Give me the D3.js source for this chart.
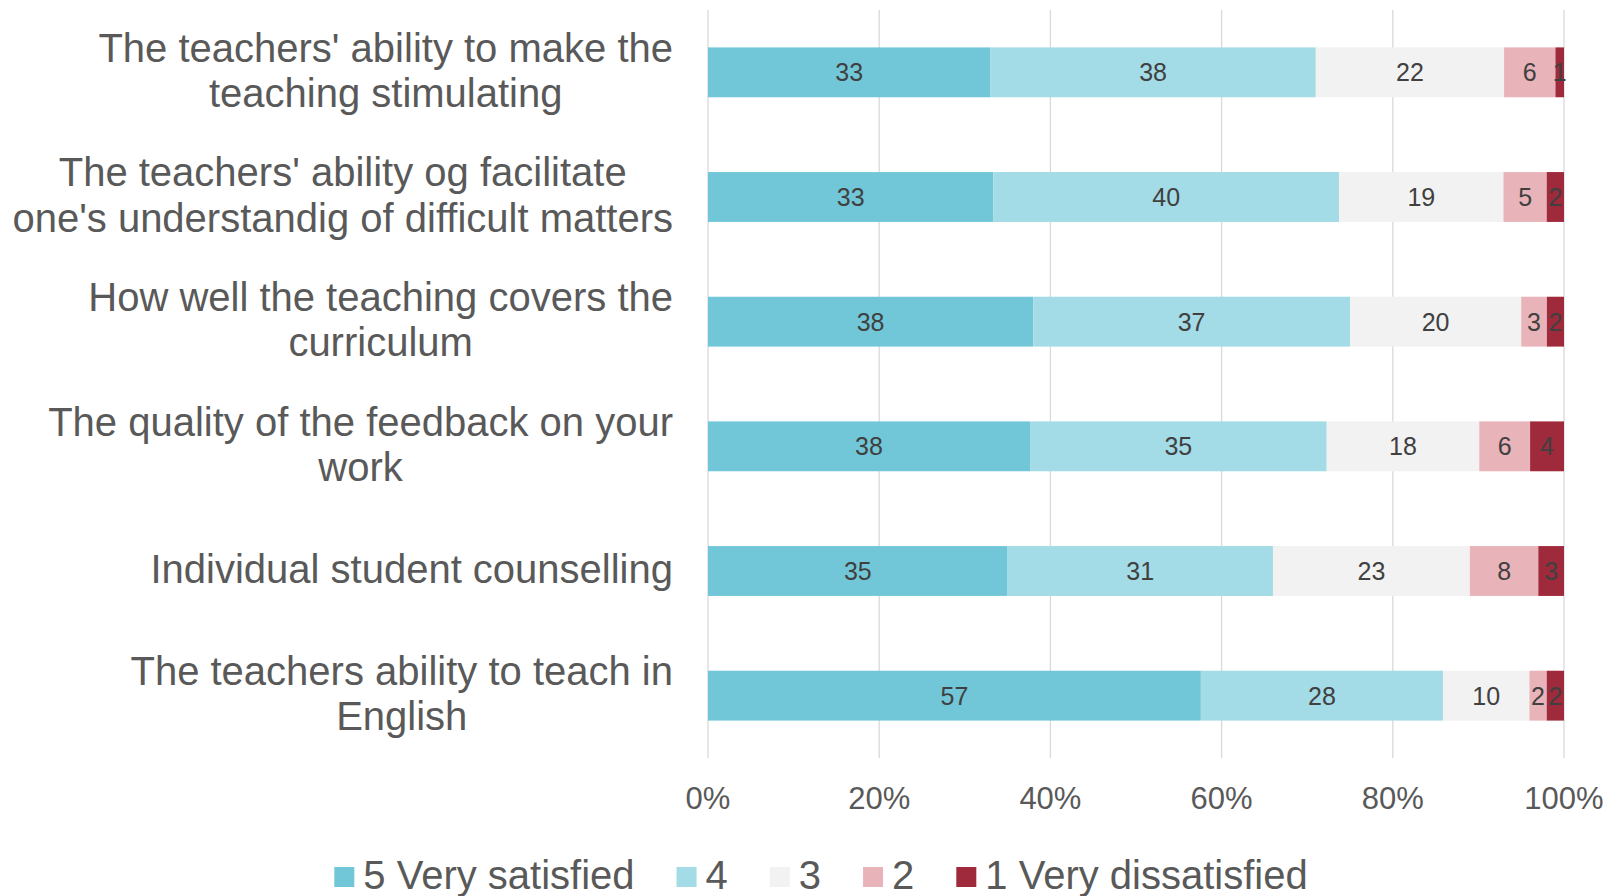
<!DOCTYPE html>
<html>
<head>
<meta charset="utf-8">
<script src="https://cdn.jsdelivr.net/npm/d3@7"></script>
<style>
  html, body { margin: 0; padding: 0; background: #fff; }
  svg { display: block; font-family: "Liberation Sans", Arial, sans-serif; }
</style>
</head>
<body>
<svg id="chart" width="1621" height="896"></svg>
<script>
// Survey items (each entry is a list of wrapped lines)
const categories = [
  ["The teachers' ability to make the", "teaching stimulating"],
  ["The teachers' ability og facilitate", "one's understandig of difficult matters"],
  ["How well the teaching covers the", "curriculum"],
  ["The quality of the feedback on your", "work"],
  ["Individual student counselling"],
  ["The teachers ability to teach in", "English"]
];

// Response shares per rating level (percent)
const seriesNames = ["5 Very satisfied", "4", "3", "2", "1 Very dissatisfied"];
const rating5 = [33, 33, 38, 38, 35, 57];
const rating4 = [38, 40, 37, 35, 31, 28];
const rating3 = [22, 19, 20, 18, 23, 10];
const rating2 = [6, 5, 3, 6, 8, 2];
const rating1 = [1, 2, 2, 4, 3, 2];
const seriesColors = ["#71c7d8", "#a3dbe6", "#f2f2f2", "#e8b4b9", "#9e2a3b"];

const tickValues = [0, 0.2, 0.4, 0.6, 0.8, 1];

const seriesValues = [rating5, rating4, rating3, rating2, rating1];
const rows = categories.map((c, i) => {
  const r = { idx: i };
  seriesNames.forEach((s, k) => { r[s] = seriesValues[k][i]; });
  return r;
});

const svg = d3.select("#chart");
const plot = { left: 708, right: 1564, top: 10, bottom: 758 };

const x = d3.scaleLinear().domain([0, 1]).range([plot.left, plot.right]);
const y = d3.scaleBand().domain(d3.range(categories.length))
  .range([plot.top, plot.bottom]).paddingInner(0.6).paddingOuter(0.3);
const color = d3.scaleOrdinal().domain(seriesNames).range(seriesColors);

// Vertical gridlines
svg.append("g").selectAll("line").data(tickValues).join("line")
  .attr("x1", d => x(d)).attr("x2", d => x(d))
  .attr("y1", plot.top).attr("y2", plot.bottom)
  .attr("stroke", "#d9d9d9").attr("stroke-width", 1.3);

// Stacked 100% bars
const stack = d3.stack().keys(seriesNames).offset(d3.stackOffsetExpand);
const layers = stack(rows);

const layerG = svg.append("g").selectAll("g").data(layers).join("g")
  .attr("fill", d => color(d.key));

layerG.selectAll("rect").data(d => d).join("rect")
  .attr("x", d => x(d[0]))
  .attr("y", d => y(d.data.idx))
  .attr("width", d => x(d[1]) - x(d[0]))
  .attr("height", y.bandwidth());

// Segment value labels
const labelG = svg.append("g");
layers.forEach(layer => {
  layer.forEach(d => {
    labelG.append("text")
      .attr("x", (x(d[0]) + x(d[1])) / 2)
      .attr("y", y(d.data.idx) + y.bandwidth() / 2)
      .attr("text-anchor", "middle")
      .attr("dominant-baseline", "central")
      .attr("font-size", 25)
      .attr("fill", "#404040")
      .text(d.data[layer.key]);
  });
});

// Category labels: lines centred on each other, block right-aligned
const catG = svg.append("g");
const lineGap = 45.5;
const labelRight = 673;
categories.forEach((lines, i) => {
  const cy = y(i) + y.bandwidth() / 2 - 2;
  const t = catG.append("text")
    .attr("font-size", 40)
    .attr("fill", "#595959")
    .attr("text-anchor", "middle");
  const spans = lines.map((ln, j) => t.append("tspan")
    .attr("y", cy + (j - (lines.length - 1) / 2) * lineGap)
    .attr("dominant-baseline", "central")
    .text(ln));
  const maxW = d3.max(spans, s => s.node().getComputedTextLength());
  spans.forEach(s => s.attr("x", labelRight - maxW / 2));
});

// X axis tick labels
svg.append("g").selectAll("text").data(tickValues).join("text")
  .attr("x", d => x(d))
  .attr("y", 798)
  .attr("text-anchor", "middle")
  .attr("dominant-baseline", "central")
  .attr("font-size", 31)
  .attr("fill", "#595959")
  .text(d3.format(".0%"));

// Legend, centred horizontally
const legend = svg.append("g");
const sw = 20, textGap = 9, itemGap = 42, legendY = 875;
const items = seriesNames.map(name => {
  const g = legend.append("g");
  g.append("rect").attr("width", sw).attr("height", sw)
    .attr("y", legendY - sw / 2 + 2).attr("fill", color(name));
  const tx = g.append("text")
    .attr("x", sw + textGap).attr("y", legendY)
    .attr("dominant-baseline", "central")
    .attr("font-size", 40).attr("fill", "#595959").text(name);
  return { g, w: sw + textGap + tx.node().getComputedTextLength() };
});
const totalW = d3.sum(items, d => d.w) + itemGap * (items.length - 1);
let cx = 821 - totalW / 2;
items.forEach(it => {
  it.g.attr("transform", `translate(${cx},0)`);
  cx += it.w + itemGap;
});
</script>
</body>
</html>
